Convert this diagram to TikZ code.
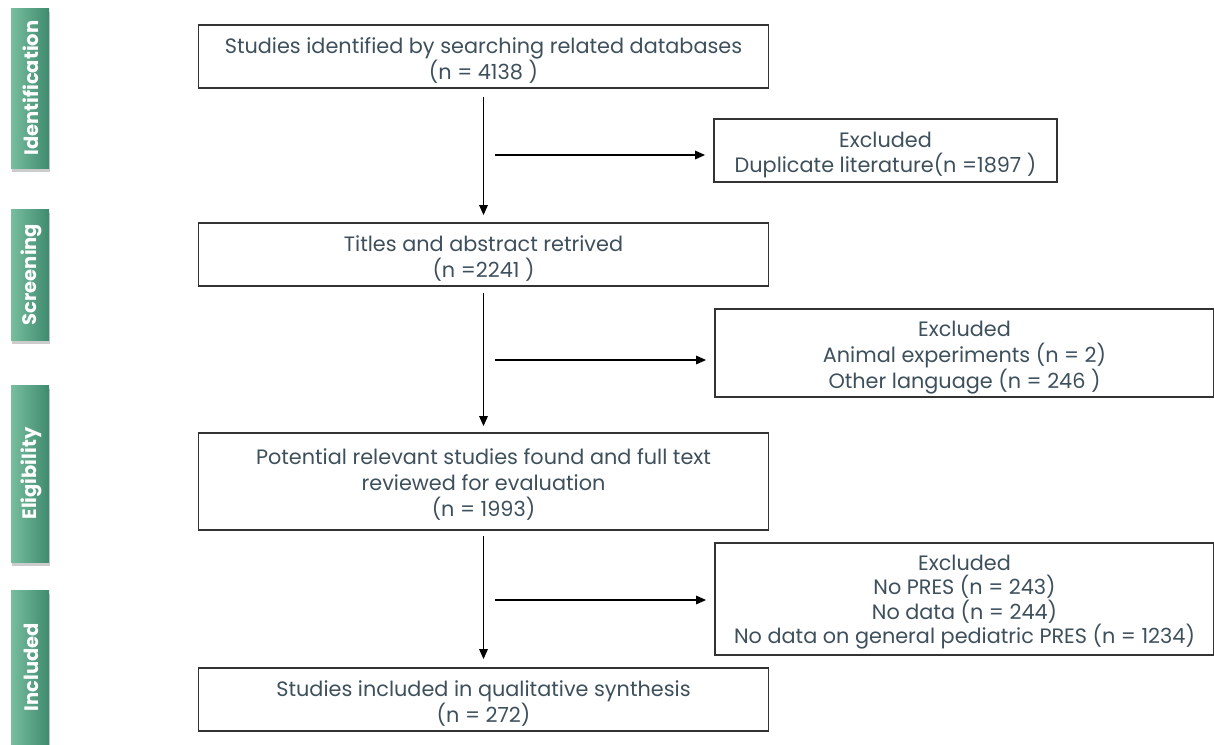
\documentclass[tikz,border=0pt]{standalone}
\usepackage{fontspec}
\setmainfont{Poppins}
\usetikzlibrary{arrows.meta,shadows}
\definecolor{txt}{HTML}{3E505C}
\definecolor{edge}{HTML}{333333}
\definecolor{gA}{HTML}{78BE9F}
\definecolor{gB}{HTML}{3F8A6E}
\begin{document}
\begin{tikzpicture}[x=1pt,y=-1pt,
  box/.style={draw=edge,line width=1.8pt,fill=white,inner sep=0pt},
  lbl/.style={align=center,text=txt,font=\fontsize{20.8}{26}\selectfont,inner sep=0pt},
  arr/.style={draw=black,line width=1.5pt,-{Triangle[length=10pt,width=8.5pt]}},
  bar/.style={left color=gA,right color=gB,draw=none,
    drop shadow={shadow xshift=1pt,shadow yshift=-4pt,opacity=0.4}},
  bartext/.style={text=white,font=\bfseries\fontsize{19.5}{22}\selectfont,rotate=90}]
\useasboundingbox (0,0) rectangle (1214,744);
% stage bars
\path[bar] (11,8) rectangle (49,168);
\node[bartext] (tIdent) at (31,88) {Identification};
\path[bar] (11,209) rectangle (49,340);
\node[bartext] (tScreen) at (31,274.5) {Screening};
\path[bar] (11,385) rectangle (49,562);
\node[bartext] (tElig) at (31,473.5) {Eligibility};
\path[bar] (11,590) rectangle (49,760);
\node[bartext] (tIncl) at (31,667) {Included};
% main boxes
\node[box,minimum width=570pt,minimum height=63pt] (b1) at (483.5,56.5) {};
\node[lbl] (b1t) at ([yshift=-3.5pt]b1.center)
  {Studies identified by searching related databases\\(n = 4138 )};
\node[box,minimum width=570pt,minimum height=63pt] (b2) at (483.5,254.5) {};
\node[lbl] (b2t) at ([yshift=-4.5pt]b2.center)
  {Titles and abstract retrived\\(n =2241 )};
\node[box,minimum width=570pt,minimum height=97pt] (b3) at (483.5,481.5) {};
\node[lbl] (b3t) at ([yshift=-3pt]b3.center)
  {Potential relevant studies found and full text\\reviewed for evaluation\\(n = 1993)};
\node[box,minimum width=570pt,minimum height=63pt] (b4) at (483.5,699.5) {};
\node[lbl] (b4t) at ([yshift=-4pt]b4.center)
  {Studies included in qualitative synthesis\\(n = 272)};
% excluded boxes
\node[box,minimum width=343pt,minimum height=63pt] (e1) at (885.5,150.5) {};
\node[lbl,font=\fontsize{20.8}{25}\selectfont] (e1t) at ([yshift=-4.5pt]e1.center)
  {Excluded\\Duplicate literature(n =1897 )};
\node[box,minimum width=499pt,minimum height=88pt] (e2) at (964.5,353) {};
\node[lbl,font=\fontsize{20.8}{26}\selectfont] (e2t) at ([yshift=-5pt]e2.center)
  {Excluded\\Animal experiments (n = 2)\\Other language (n = 246 )};
\node[box,minimum width=499pt,minimum height=112pt] (e3) at (964.5,599) {};
\node[lbl,font=\fontsize{20.8}{24.5}\selectfont] (e3t) at ([yshift=-3pt]e3.center)
  {Excluded\\No PRES (n = 243)\\No data (n = 244)\\No data on general pediatric PRES (n = 1234)};
% vertical arrows
\draw[arr] ([yshift=-8pt]b1.south) -- ([yshift=7pt]b2.north);
\draw[arr] ([yshift=-6pt]b2.south) -- ([yshift=6pt]b3.north);
\draw[arr] ([yshift=-5pt]b3.south) -- ([yshift=8pt]b4.north);
% horizontal arrows
\coordinate (h1) at (495,155);
\coordinate (h2) at (495,360);
\coordinate (h3) at (495,600);
\draw[arr] (h1) -- ([xshift=-8pt]h1 -| e1.west);
\draw[arr] (h2) -- ([xshift=-8pt]h2 -| e2.west);
\draw[arr] (h3) -- ([xshift=-8pt]h3 -| e3.west);
\end{tikzpicture}
\end{document}
